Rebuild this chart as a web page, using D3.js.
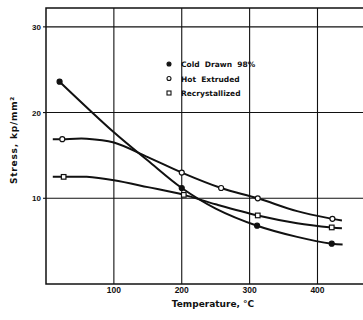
<!DOCTYPE html>
<html>
<head>
<meta charset="utf-8">
<script src="https://cdn.jsdelivr.net/npm/d3@7"></script>
<style>
    body { margin: 0; background: #fff; }
    svg { display: block; }
    .lbl { font-family: "DejaVu Sans", sans-serif; font-weight: bold; fill: #111; }
    .tick { font-family: "Liberation Sans", Arial, sans-serif; font-weight: bold; fill: #111; }
</style>
</head>
<body>
<svg id="chart"></svg>
<script>
// Series (temperature in degC, stress in kp/mm2).
const coldDrawnCurve = [[20, 23.6], [100, 17.7], [150, 14.4], [200, 11.2], [250, 8.8], [311, 6.8], [370, 5.5], [421, 4.7], [437, 4.6]];
const hotExtrudedCurve = [[10, 16.9], [24, 16.9], [60, 16.95], [100, 16.5], [150, 14.8], [200, 13.0], [258, 11.2], [312, 10.0], [370, 8.5], [422, 7.6], [436, 7.4]];
const recrystCurve = [[10, 12.5], [26, 12.5], [60, 12.5], [100, 12.1], [150, 11.3], [203, 10.4], [250, 9.3], [312, 8.0], [370, 7.1], [421, 6.6], [436, 6.5]];

// Measured points (markers).
const coldDrawnPts = [[20, 23.6], [200, 11.2], [311, 6.8], [421, 4.7]];
const hotExtrudedPts = [[24, 16.9], [200, 13.0], [258, 11.2], [312, 10.0], [422, 7.6]];
const recrystPts = [[26, 12.5], [203, 10.4], [312, 8.0], [421, 6.6]];

const legendLabels = ["Cold  Drawn  98%", "Hot  Extruded", "Recrystallized"];
const xTicks = [100, 200, 300, 400];
const yTicks = [10, 20, 30];

const W = 363, H = 320;
const margin = { top: 8, right: -2, bottom: 36, left: 46 };

const svg = d3.select("#chart").attr("width", W).attr("height", H);

const x = d3.scaleLinear().domain([0, 470]).range([margin.left, W - margin.right]);
const y = d3.scaleLinear().domain([0, 32.2]).range([H - margin.bottom, margin.top]);

// Grid lines.
svg.append("g").selectAll("line").data(xTicks).join("line")
    .attr("x1", d => x(d)).attr("x2", d => x(d))
    .attr("y1", y(0)).attr("y2", y(32.2))
    .attr("stroke", "#111").attr("stroke-width", 1.1);
svg.append("g").selectAll("line").data(yTicks).join("line")
    .attr("x1", x(0)).attr("x2", x(470))
    .attr("y1", d => y(d)).attr("y2", d => y(d))
    .attr("stroke", "#111").attr("stroke-width", 1.1);

// Frame.
svg.append("rect")
    .attr("x", x(0)).attr("y", y(32.2))
    .attr("width", x(470) - x(0)).attr("height", y(0) - y(32.2))
    .attr("fill", "none").attr("stroke", "#111").attr("stroke-width", 1.5);

// Small tick stubs on the left side.
svg.append("g").selectAll("line").data(yTicks).join("line")
    .attr("x1", x(0) - 3).attr("x2", x(0))
    .attr("y1", d => y(d)).attr("y2", d => y(d))
    .attr("stroke", "#111").attr("stroke-width", 1.1);

// Tick labels.
svg.append("g").selectAll("text").data(xTicks).join("text")
    .attr("class", "tick")
    .attr("x", d => x(d)).attr("y", y(0) + 9)
    .attr("text-anchor", "middle").attr("font-size", 8.5)
    .text(d => d);
svg.append("g").selectAll("text").data(yTicks).join("text")
    .attr("class", "tick")
    .attr("x", x(0) - 5).attr("y", d => y(d) + 3)
    .attr("text-anchor", "end").attr("font-size", 8)
    .text(d => d);

// Axis titles.
svg.append("text")
    .attr("class", "lbl")
    .attr("x", 213).attr("y", 307)
    .attr("text-anchor", "middle").attr("font-size", 9)
    .text("Temperature, \u00b0C");
svg.append("text")
    .attr("class", "lbl")
    .attr("transform", `translate(17,${(y(0) + y(32.2)) / 2 - 6}) rotate(-90)`)
    .attr("text-anchor", "middle").attr("font-size", 9)
    .attr("letter-spacing", 0.8)
    .text("Stress, kp/mm\u00b2");

// Curves.
const line = d3.line()
    .x(d => x(d[0]))
    .y(d => y(d[1]))
    .curve(d3.curveCatmullRom.alpha(0.5));
[coldDrawnCurve, hotExtrudedCurve, recrystCurve].forEach(c => {
    svg.append("path")
        .datum(c)
        .attr("d", line)
        .attr("fill", "none")
        .attr("stroke", "#111")
        .attr("stroke-width", 2);
});

// Markers.
function drawMarkers(g, pts, kind) {
    if (kind === "square") {
        g.selectAll("rect").data(pts).join("rect")
            .attr("x", d => x(d[0]) - 2.3).attr("y", d => y(d[1]) - 2.3)
            .attr("width", 4.6).attr("height", 4.6)
            .attr("fill", "#fff").attr("stroke", "#111").attr("stroke-width", 1.2);
    } else {
        g.selectAll("circle").data(pts).join("circle")
            .attr("cx", d => x(d[0])).attr("cy", d => y(d[1]))
            .attr("r", 2.5)
            .attr("fill", kind === "filled" ? "#111" : "#fff")
            .attr("stroke", "#111").attr("stroke-width", 1.2);
    }
}
drawMarkers(svg.append("g"), coldDrawnPts, "filled");
drawMarkers(svg.append("g"), hotExtrudedPts, "open");
drawMarkers(svg.append("g"), recrystPts, "square");

// Legend.
const kinds = ["filled", "open", "square"];
const legend = svg.append("g");
legendLabels.forEach((t, i) => {
    const ly = 64 + i * 14.5;
    const g = legend.append("g");
    if (kinds[i] === "square") {
        g.append("rect").attr("x", 167).attr("y", ly - 2).attr("width", 4).attr("height", 4)
            .attr("fill", "#fff").attr("stroke", "#111").attr("stroke-width", 1.1);
    } else {
        g.append("circle").attr("cx", 169).attr("cy", ly).attr("r", 2)
            .attr("fill", kinds[i] === "filled" ? "#111" : "#fff")
            .attr("stroke", "#111").attr("stroke-width", 1.1);
    }
    g.append("text").attr("class", "lbl")
        .attr("x", 181).attr("y", ly + 3)
        .attr("font-size", 7.5)
        .style("white-space", "pre")
        .text(t);
});
</script>
</body>
</html>
